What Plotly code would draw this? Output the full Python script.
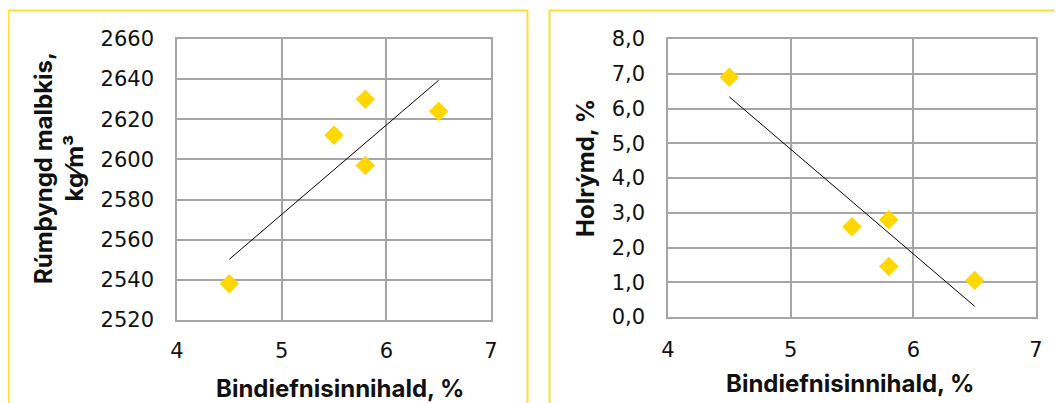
import numpy as np
import plotly.graph_objects as go

# The page body has an 8px margin, so the figure is drawn 8px in from the
# window's corner; coordinates below are given in window pixels.
OFF = 8
W, H = 1062 - OFF, 403 - OFF

# Data
binder = [4.5, 5.5, 5.8, 5.8, 6.5]
density = [2538, 2612, 2630, 2597, 2624]
voids = [6.9, 2.6, 2.8, 1.45, 1.05]

x_ticks = [4, 5, 6, 7]
density_ticks = [2520, 2540, 2560, 2580, 2600, 2620, 2640, 2660]
void_ticks = [0, 1, 2, 3, 4, 5, 6, 7, 8]

x_title = "Bindiefnisinnihald, %"
y1_title = "Rúmþyngd malbkis,<br>kg⁄m³"
y2_title = "Holrýmd, %"


def trend(x, y):
    k, m = np.polyfit(x, y, 1)
    xs = [min(x), max(x)]
    return xs, [k * v + m for v in xs]


def px_x(p):
    return (p - OFF) / W


def px_y(p):
    return 1 - (p - OFF) / H


TICK_FONT = "DejaVu Sans"
TITLE_FONT = "Inter"
YELLOW = "#FFD800"
GRID = "#A6A6A6"

fig = go.Figure()

fig.add_trace(go.Scatter(x=binder, y=density, mode="markers",
                         marker=dict(symbol="diamond", size=15, color=YELLOW),
                         xaxis="x", yaxis="y", showlegend=False))
tx, ty = trend(binder, density)
fig.add_trace(go.Scatter(x=tx, y=ty, mode="lines", line=dict(color="black", width=1),
                         xaxis="x", yaxis="y", showlegend=False))

fig.add_trace(go.Scatter(x=binder, y=voids, mode="markers",
                         marker=dict(symbol="diamond", size=15, color=YELLOW),
                         xaxis="x2", yaxis="y2", showlegend=False))
tx2, ty2 = trend(binder, voids)
fig.add_trace(go.Scatter(x=tx2, y=ty2, mode="lines", line=dict(color="black", width=1),
                         xaxis="x2", yaxis="y2", showlegend=False))

axis_common = dict(showgrid=True, gridcolor=GRID, gridwidth=1.5, showline=True,
                   linecolor=GRID, linewidth=1.5, mirror=True, zeroline=False,
                   ticks="", tickfont=dict(family=TICK_FONT, size=21, color="#111111"),
                   fixedrange=True, automargin=False)

fig.update_layout(
    width=W, height=H,
    margin=dict(l=0, r=0, t=0, b=0, pad=0, autoexpand=False),
    paper_bgcolor="white", plot_bgcolor="white",
    separators=",.",
    xaxis=dict(domain=[px_x(177), px_x(491)], range=[4, 7], tickvals=x_ticks,
               anchor="y", ticklabelstandoff=11, **axis_common),
    yaxis=dict(domain=[px_y(320), px_y(39)], range=[2520, 2660], tickvals=density_ticks,
               anchor="x", ticklabelstandoff=17, **axis_common),
    xaxis2=dict(domain=[px_x(668), px_x(1036)], range=[4, 7], tickvals=x_ticks,
                anchor="y2", ticklabelstandoff=13, **axis_common),
    yaxis2=dict(domain=[px_y(317), px_y(39)], range=[0, 8], tickvals=void_ticks,
                tickformat=".1f", anchor="x2", ticklabelstandoff=17, **axis_common),
)

title_font = dict(family=TITLE_FONT, size=24, color="#111111", weight="bold")
fig.add_annotation(text=x_title, x=px_x(340), y=px_y(388), xref="paper", yref="paper",
                   showarrow=False, font=title_font, xanchor="center", yanchor="middle")
fig.add_annotation(text=x_title, x=px_x(850), y=px_y(383), xref="paper", yref="paper",
                   showarrow=False, font=title_font, xanchor="center", yanchor="middle")
fig.add_annotation(text=y1_title, x=px_x(59), y=px_y(168), xref="paper", yref="paper",
                   showarrow=False, font=title_font, textangle=-90,
                   xanchor="center", yanchor="middle")
fig.add_annotation(text=y2_title, x=px_x(586), y=px_y(168), xref="paper", yref="paper",
                   showarrow=False, font=title_font, textangle=-90,
                   xanchor="center", yanchor="middle")

# Panel borders
for x0, x1 in [(8.5, 527.5), (549.5, 1075)]:
    fig.add_shape(type="path", xref="paper", yref="paper",
                  path=f"M {px_x(x0)} {px_y(420)} L {px_x(x0)} {px_y(10.5)} "
                       f"L {px_x(x1)} {px_y(10.5)} L {px_x(x1)} {px_y(420)}",
                  line=dict(color="#FFE033", width=2))

fig.write_html("out.html")
